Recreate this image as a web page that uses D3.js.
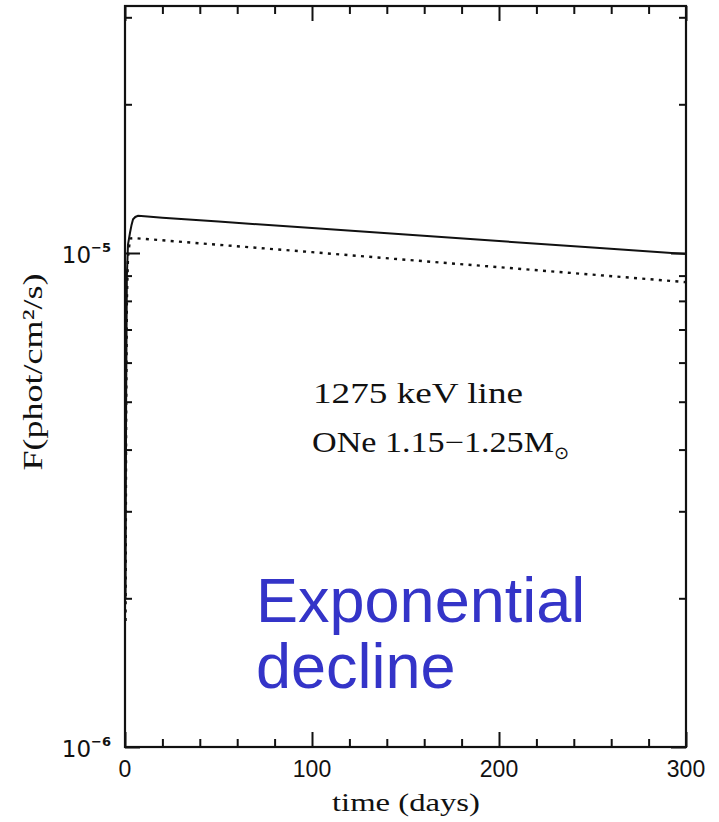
<!DOCTYPE html>
<html>
<head>
<meta charset="utf-8">
<script src="https://cdn.jsdelivr.net/npm/d3@7"></script>
<style>
  html, body { margin: 0; padding: 0; background: #fff; }
  svg { display: block; }
</style>
</head>
<body>
<svg id="chart" width="719" height="822"></svg>
<script>
// 1275 keV (22Na) gamma-ray line light curve, ONe novae 1.15-1.25 Msun
const solidDays  = [0.3, 0.6, 1.0, 1.6, 2.7, 3.5, 4.3, 5.5, 7, 12, 20, 50, 100, 150, 200, 250, 300];
const solidFlux  = [0.20e-5, 0.50e-5, 0.90e-5, 1.04e-5, 1.10e-5, 1.14e-5, 1.17e-5, 1.183e-5, 1.189e-5,
                    1.186e-5, 1.179e-5, 1.158e-5, 1.123e-5, 1.090e-5, 1.057e-5, 1.026e-5, 0.995e-5];
const dottedDays = [0.3, 0.6, 1.0, 1.6, 2.7, 5, 50, 100, 150, 200, 250, 300];
const dottedFlux = [0.18e-5, 0.45e-5, 0.80e-5, 0.98e-5, 1.07e-5, 1.072e-5, 1.039e-5, 1.004e-5,
                    0.969e-5, 0.936e-5, 0.904e-5, 0.873e-5];

const xMajorTicks = [0, 100, 200, 300];
const xMinorTicks = d3.range(20, 300, 20).filter(d => d % 100 !== 0);
const yMajorTicks = [1e-6, 1e-5];
const yMajorExponents = ["−6", "−5"];
const yMinorTicks = [2e-6, 3e-6, 4e-6, 5e-6, 6e-6, 7e-6, 8e-6, 9e-6, 2e-5, 3e-5];

const svg = d3.select("#chart");
const L = 125, R = 686, T = 6, B = 747;
const serif = "Liberation Serif";

const x = d3.scaleLinear().domain([0, 300]).range([L, R]);
const y = d3.scaleLog().domain([1e-6, Math.pow(10, -4.5)]).range([B, T]);

svg.append("defs").append("clipPath").attr("id", "plotclip")
  .append("rect").attr("x", L).attr("y", T).attr("width", R - L).attr("height", B - T);

// tick marks, all pointing into the frame
function tickGroup(axisFn, scale, values, size, tx, ty) {
  const g = svg.append("g").attr("transform", `translate(${tx},${ty})`)
    .call(axisFn(scale).tickValues(values).tickSize(size).tickFormat(""));
  g.select(".domain").remove();
  g.selectAll(".tick line").attr("stroke", "#111").attr("stroke-width", 2);
  return g;
}
tickGroup(d3.axisBottom, x, xMinorTicks, -8, 0, B);
tickGroup(d3.axisBottom, x, xMajorTicks, -15, 0, B);
tickGroup(d3.axisTop, x, xMinorTicks, -8, 0, T);
tickGroup(d3.axisTop, x, xMajorTicks, -15, 0, T);
tickGroup(d3.axisLeft, y, yMinorTicks, -7, L, 0);
tickGroup(d3.axisLeft, y, yMajorTicks, -15, L, 0);
tickGroup(d3.axisRight, y, yMinorTicks, -7, R, 0);
tickGroup(d3.axisRight, y, yMajorTicks, -15, R, 0);

// frame
svg.append("rect").attr("x", L).attr("y", T).attr("width", R - L).attr("height", B - T)
  .attr("fill", "none").attr("stroke", "#111").attr("stroke-width", 2.2);

// curves
const plot = svg.append("g").attr("clip-path", "url(#plotclip)");
const line = d3.line().x(d => x(d[0])).y(d => y(d[1]));
plot.append("path")
  .datum(solidDays.map((d, i) => [d, solidFlux[i]]))
  .attr("d", line).attr("fill", "none").attr("stroke", "#111").attr("stroke-width", 2);
plot.append("path")
  .datum(dottedDays.map((d, i) => [d, dottedFlux[i]]))
  .attr("d", line).attr("fill", "none").attr("stroke", "#111").attr("stroke-width", 2.4)
  .attr("stroke-dasharray", "3,5.3");

// y tick labels 10^-6, 10^-5
yMajorTicks.forEach((v, i) => {
  const t = svg.append("text").attr("x", 111).attr("y", y(v) + 10)
    .attr("text-anchor", "end").attr("font-family", "DejaVu Sans").attr("fill", "#111");
  t.append("tspan").attr("font-size", 23).text("10");
  t.append("tspan").attr("font-size", 13).attr("font-weight", "bold").attr("dy", -11)
    .text(yMajorExponents[i]);
});

// x tick labels
svg.selectAll("text.xlab").data(xMajorTicks).enter().append("text")
  .attr("class", "xlab")
  .attr("x", d => x(d)).attr("y", 777)
  .attr("text-anchor", "middle").attr("font-family", "Liberation Sans").attr("font-size", 23)
  .attr("fill", "#111").text(d => d);

// axis titles
svg.append("text").attr("x", 406).attr("y", 811).attr("text-anchor", "middle")
  .attr("font-family", serif).attr("font-size", 25).attr("fill", "#111")
  .attr("textLength", 148).attr("lengthAdjust", "spacingAndGlyphs")
  .text("time (days)");
svg.append("text").attr("transform", "translate(42,372) rotate(-90)").attr("text-anchor", "middle")
  .attr("font-family", serif).attr("font-size", 28).attr("fill", "#111")
  .attr("textLength", 197).attr("lengthAdjust", "spacingAndGlyphs")
  .text("F(phot/cm²/s)");

// annotation
svg.append("text").attr("x", 313).attr("y", 403)
  .attr("font-family", serif).attr("font-size", 29).attr("fill", "#111")
  .attr("textLength", 210).attr("lengthAdjust", "spacingAndGlyphs")
  .text("1275 keV line");
const ann2 = svg.append("text").attr("x", 312).attr("y", 452)
  .attr("font-family", serif).attr("font-size", 29).attr("fill", "#111");
ann2.append("tspan").attr("textLength", 242).attr("lengthAdjust", "spacingAndGlyphs")
  .text("ONe 1.15−1.25M");
ann2.append("tspan").attr("font-size", 18).attr("dy", 7).attr("font-family", "DejaVu Sans").text("⊙");

// overlay note
const note = svg.append("g").attr("font-family", "Liberation Sans").attr("font-size", 63)
  .attr("fill", "#3434c8");
note.append("text").attr("x", 256).attr("y", 622).text("Exponential");
note.append("text").attr("x", 256).attr("y", 688).text("decline");
</script>
</body>
</html>
